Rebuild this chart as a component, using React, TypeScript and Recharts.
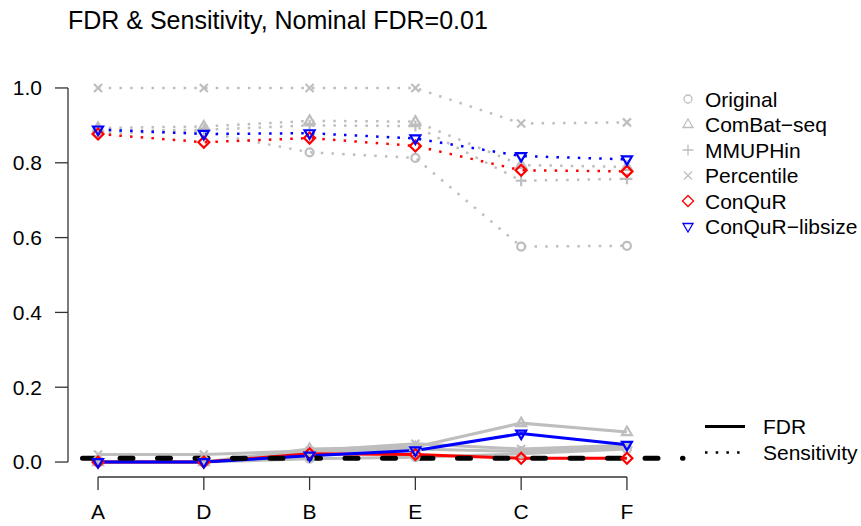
import React from "react";
import { LineChart, Line, XAxis, YAxis, ReferenceLine } from "recharts";

const categories = ["A", "D", "B", "E", "C", "F"];
const methods = ["Original", "ComBat\u2212seq", "MMUPHin", "Percentile", "ConQuR", "ConQuR\u2212libsize"];

// sensitivity (dotted)
const sensOriginal = [0.88, 0.882, 0.828, 0.813, 0.576, 0.578];
const sensCombat = [0.893, 0.897, 0.912, 0.91, 0.794, 0.789];
const sensMmuphin = [0.885, 0.888, 0.9, 0.898, 0.752, 0.757];
const sensPercentile = [1, 1, 1, 1, 0.905, 0.908];
const sensConqur = [0.877, 0.855, 0.866, 0.845, 0.78, 0.777];
const sensLibsize = [0.889, 0.877, 0.879, 0.865, 0.818, 0.809];

// FDR (solid)
const fdrOriginal = [0, 0, 0.009, 0.013, 0.022, 0.035];
const fdrCombat = [0, 0, 0.035, 0.04, 0.104, 0.08];
const fdrMmuphin = [0, 0, 0.028, 0.035, 0.028, 0.04];
const fdrPercentile = [0.02, 0.02, 0.03, 0.049, 0.035, 0.045];
const fdrConqur = [0, 0, 0.022, 0.02, 0.01, 0.01];
const fdrLibsize = [0, 0, 0.017, 0.031, 0.076, 0.046];

const nominalFdr = 0.01;
const yTicks = [0, 0.2, 0.4, 0.6, 0.8, 1];
const xTicks = [1, 2, 3, 4, 5, 6];
const xMin = 0.716;
const xMax = 6.53;

const GREY = "#BEBEBE";
const FONT = "'Liberation Sans', Arial, Helvetica, sans-serif";

const rows = categories.map((c, i) => ({
  x: i + 1,
  sOrig: sensOriginal[i],
  sComb: sensCombat[i],
  sMmu: sensMmuphin[i],
  sPct: sensPercentile[i],
  sCq: sensConqur[i],
  sLib: sensLibsize[i],
  fOrig: fdrOriginal[i],
  fComb: fdrCombat[i],
  fMmu: fdrMmuphin[i],
  fPct: fdrPercentile[i],
  fCq: fdrConqur[i],
  fLib: fdrLibsize[i],
}));

type Shape = "circle" | "up" | "plus" | "cross" | "diamond" | "down";
const shapes: Shape[] = ["circle", "up", "plus", "cross", "diamond", "down"];
const colors = [GREY, GREY, GREY, GREY, "#FF0000", "#0000FF"];

function Marker({ cx, cy, shape, color, sw = 2.2 }: { cx: number; cy: number; shape: Shape; color: string; sw?: number }) {
  const common = { fill: "none", stroke: color, strokeWidth: sw, strokeDasharray: "none" };
  if (shape === "circle") return <circle cx={cx} cy={cy} r={4} {...common} />;
  if (shape === "up")
    return <path d={`M${cx},${cy - 5.5}L${cx + 5},${cy + 3}L${cx - 5},${cy + 3}Z`} {...common} />;
  if (shape === "down")
    return <path d={`M${cx},${cy + 5.5}L${cx + 5},${cy - 3}L${cx - 5},${cy - 3}Z`} {...common} />;
  if (shape === "plus")
    return <path d={`M${cx - 5.5},${cy}H${cx + 5.5}M${cx},${cy - 5.5}V${cy + 5.5}`} {...common} />;
  if (shape === "cross")
    return <path d={`M${cx - 4},${cy - 4}L${cx + 4},${cy + 4}M${cx - 4},${cy + 4}L${cx + 4},${cy - 4}`} {...common} />;
  return <path d={`M${cx},${cy - 5.5}L${cx + 5.5},${cy}L${cx},${cy + 5.5}L${cx - 5.5},${cy}Z`} {...common} />;
}

const makeDot = (shape: Shape, color: string) => (p: any) =>
  <Marker key={`${shape}-${p.index}`} cx={p.cx} cy={p.cy} shape={shape} color={color} />;

const sensKeys = ["sOrig", "sComb", "sMmu", "sPct", "sCq", "sLib"];
const fdrKeys = ["fOrig", "fComb", "fMmu", "fPct", "fCq", "fLib"];

export default function App() {
  return (
    <div style={{ position: "absolute", left: 0, top: 0, width: 861, height: 526, background: "#fff", fontFamily: FONT }}>
      <LineChart width={861} height={526} data={rows} margin={{ top: 73, right: 178, bottom: 0, left: 0 }}>
        <XAxis
          type="number"
          dataKey="x"
          domain={[xMin, xMax]}
          ticks={xTicks}
          allowDataOverflow
          axisLine={false}
          tickSize={13}
          tickMargin={14}
          height={49}
          tickLine={{ stroke: "#333", strokeWidth: 1.3 }}
          tick={{ fill: "#000", fontSize: 21, fontFamily: FONT }}
          tickFormatter={(v: number) => categories[v - 1]}
        />
        <YAxis
          type="number"
          domain={[-0.04, 1.04]}
          ticks={yTicks}
          allowDataOverflow
          axisLine={false}
          tickSize={13}
          tickMargin={13}
          width={68}
          tickLine={{ stroke: "#333", strokeWidth: 1.3 }}
          tick={{ fill: "#000", fontSize: 21, fontFamily: FONT }}
          tickFormatter={(v: number) => v.toFixed(1)}
        />
        <ReferenceLine segment={[{ x: xMin, y: 0 }, { x: xMin, y: 1 }]} stroke="#333" strokeWidth={1.3} ifOverflow="visible" />
        <ReferenceLine segment={[{ x: 1, y: -0.04 }, { x: 6, y: -0.04 }]} stroke="#333" strokeWidth={1.3} ifOverflow="visible" />
        {sensKeys.map((k, i) => (
          <Line
            key={k}
            type="linear"
            dataKey={k}
            stroke={colors[i]}
            strokeWidth={2.5}
            strokeDasharray="2.5 8.2"
            dot={makeDot(shapes[i], colors[i])}
            activeDot={false}
            isAnimationActive={false}
          />
        ))}
        {fdrKeys.map((k, i) => (
          <Line
            key={k}
            type="linear"
            dataKey={k}
            stroke={colors[i]}
            strokeWidth={3}
            dot={makeDot(shapes[i], colors[i])}
            activeDot={false}
            isAnimationActive={false}
          />
        ))}
        <ReferenceLine
          segment={[{ x: 0.853, y: nominalFdr }, { x: xMax, y: nominalFdr }]}
          stroke="#000"
          strokeWidth={5}
          strokeDasharray="13 24.5"
          strokeLinecap="round"
          ifOverflow="visible"
        />
      </LineChart>
      <svg width={861} height={526} style={{ position: "absolute", left: 0, top: 0, pointerEvents: "none" }}>
        <text x={68} y={28.5} fontSize={25} fontFamily={FONT} fill="#000">
          FDR &amp; Sensitivity, Nominal FDR=0.01
        </text>
        {methods.map((m, i) => (
          <g key={m}>
            <Marker cx={688} cy={99 + i * 25.5} shape={shapes[i]} color={colors[i]} sw={1.3} />
            <text x={705} y={106.5 + i * 25.5} fontSize={21} fontFamily={FONT} fill="#000">
              {m}
            </text>
          </g>
        ))}
        <line x1={705} x2={745} y1={426.5} y2={426.5} stroke="#000" strokeWidth={3} />
        <text x={763} y={434} fontSize={21} fontFamily={FONT} fill="#000">FDR</text>
        <line x1={705} x2={742} y1={452.5} y2={452.5} stroke="#000" strokeWidth={2.5} strokeDasharray="2.5 8.2" />
        <text x={763} y={460} fontSize={21} fontFamily={FONT} fill="#000">Sensitivity</text>
      </svg>
    </div>
  );
}
